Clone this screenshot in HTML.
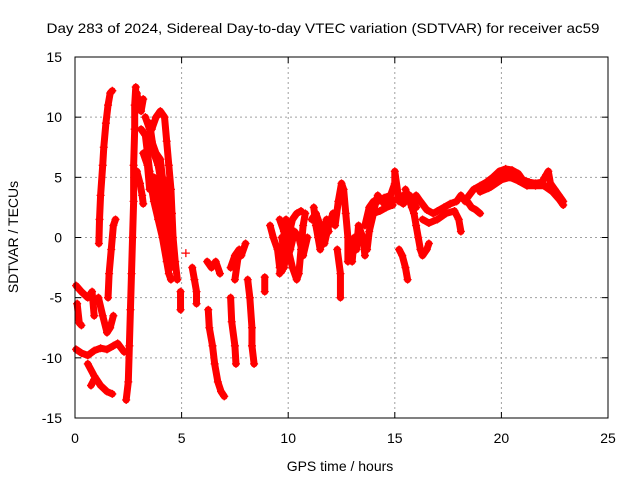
<!DOCTYPE html>
<html><head><meta charset="utf-8"><style>
body{margin:0;background:#fff}
svg{display:block;font-family:"Liberation Sans",Arial,sans-serif}
</style></head><body>
<svg id="chart" width="640" height="480" viewBox="0 0 640 480" xmlns="http://www.w3.org/2000/svg">
<rect width="640" height="480" fill="#fff"/>
<text x="323" y="33" font-size="14" text-anchor="middle" textLength="553" lengthAdjust="spacingAndGlyphs">Day 283 of 2024, Sidereal Day-to-day VTEC variation (SDTVAR) for receiver ac59</text>
<g id="grid"></g>
<g id="marks"></g>
<g id="axes"></g>
<text x="340" y="471" font-size="14" text-anchor="middle">GPS time / hours</text>
<text x="0" y="0" font-size="14" text-anchor="middle" transform="translate(18,237) rotate(-90)">SDTVAR / TECUs</text>
</svg>
<script>
const xTicks=[0,5,10,15,20,25];
const yTicks=[-15,-10,-5,0,5,10,15];
const traces=[
[[1.12,-0.5],[1.15,1.5],[1.2,3.5],[1.3,6],[1.35,7.5],[1.45,9.5],[1.55,11],[1.65,12],[1.75,12.2]],
[[1.55,-5],[1.6,-3],[1.7,-1],[1.8,1],[1.9,1.5]],
[[0.05,-4],[0.3,-4.5],[0.6,-5],[0.8,-4.5],[0.9,-6.5]],
[[0.1,-5.5],[0.2,-7.1],[0.3,-7.3]],
[[1.1,-5],[1.3,-6.5],[1.5,-7.9],[1.65,-7.5],[1.8,-6.5]],
[[0.05,-9.3],[0.3,-9.6],[0.6,-9.8],[0.9,-9.4],[1.2,-9.2],[1.5,-9.3],[1.8,-9],[2.0,-8.8],[2.3,-9.5]],
[[0.6,-10.5],[0.9,-11.5],[1.2,-12.3],[1.5,-12.8],[1.75,-13]],
[[0.75,-12.3],[0.9,-11.8]],
[[2.4,-13.5],[2.5,-12],[2.55,-9],[2.6,-6],[2.65,-3],[2.7,0],[2.75,3],[2.75,6],[2.8,9],[2.8,11],[2.85,12.5]],
[[2.9,12],[3.0,11],[3.1,10.5],[3.2,11.5]],
[[2.9,5.5],[3.05,4.5],[3.15,3.5],[3.2,2.8]],
[[3.1,9],[3.3,8.5],[3.4,7],[3.5,5.5],[3.6,4],[3.7,3],[3.9,1.5],[4.1,0],[4.3,-2],[4.4,-3],[4.5,-3.5]],
[[3.6,9],[3.8,10],[4.0,10.5],[4.2,10],[4.3,8],[4.4,6],[4.5,4],[4.55,2],[4.6,0],[4.7,-2],[4.8,-3.5]],
[[3.5,9.5],[3.7,7],[3.9,6],[4.0,5],[4.2,3.5],[4.3,2],[4.4,0]],
[[3.3,10],[3.5,9],[3.6,8],[3.8,7],[4.0,6.5],[4.1,5],[4.2,4.5],[4.3,3],[4.5,1.5],[4.6,-1]],
[[3.2,7],[3.4,6],[3.5,4],[3.7,5],[3.9,3.5],[4.1,2],[4.3,-0.5],[4.5,-2.5]],
[[4.95,-4.5],[4.95,-6]],
[[5.2,-1.3]],
[[5.5,-2.5],[5.6,-3.5],[5.7,-4.5],[5.7,-5.5]],
[[6.2,-2],[6.4,-2.5],[6.6,-2],[6.8,-3]],
[[6.25,-6],[6.3,-7.5],[6.45,-9],[6.55,-10.5],[6.7,-12],[6.85,-12.8],[7.0,-13.2]],
[[7.3,-2.5],[7.5,-1.5],[7.7,-1],[7.5,-3.5]],
[[7.3,-5],[7.35,-7],[7.5,-9],[7.55,-10.5]],
[[7.8,-1.5],[8.0,-0.5]],
[[8.1,-3.5],[8.2,-5],[8.3,-7.5],[8.3,-9],[8.4,-10.5]],
[[8.9,-3.3],[8.9,-4.5]],
[[9.15,1],[9.3,0],[9.5,-1],[9.6,-2.5],[9.7,-2.8]],
[[9.6,1.5],[9.8,0.5],[10.0,-1],[10.2,-2.5],[10.4,-3.5],[10.5,-3],[10.6,-1],[10.7,1],[10.8,2]],
[[9.6,-1],[9.8,-2.5],[10.0,0],[10.2,1.5],[10.4,2],[10.6,2.2]],
[[9.6,-3],[9.7,-1],[9.9,1.5]],
[[9.7,0],[9.9,-2],[10.1,-1],[10.3,0.5],[10.5,0],[10.7,-1.5],[10.9,0]],
[[11.2,2.5],[11.3,1],[11.4,0],[11.5,-1],[11.6,0],[11.8,1.5],[11.9,0.5]],
[[11.1,1.5],[11.3,2],[11.5,1],[11.7,-0.5],[11.9,1],[12.1,2]],
[[12.2,1],[12.35,3],[12.5,4.5],[12.6,4],[12.7,2],[12.8,0],[12.8,-2]],
[[12.3,-1],[12.45,-3],[12.45,-5]],
[[13.0,-2],[13.1,0],[13.2,-1],[13.3,1],[13.5,0],[13.6,-1.5]],
[[13.6,1],[13.8,2.5],[14.0,3],[14.2,3],[14.5,3.3],[14.8,3.5],[15.0,4.5],[15.0,5.5],[15.2,3],[15.4,3.5]],
[[13.7,-1],[13.8,0.5],[14.0,2],[14.3,2.2],[14.6,2.5],[14.9,2.7]],
[[13.9,1.5],[14.2,3.5],[14.5,2.8],[14.8,3],[15.1,3.2],[15.4,2.8],[15.7,3.5],[16.0,2.5]],
[[15.2,-1],[15.35,-1.5],[15.5,-2.5],[15.6,-3.5]],
[[15.5,4],[15.7,3],[15.9,2],[16.0,1],[16.1,0],[16.2,-1],[16.3,-1.5],[16.5,-1],[16.6,-0.5]],
[[15.8,2.5],[16.0,3.5],[16.2,3],[16.5,2.3],[16.8,2],[17.0,2.2],[17.3,2.5],[17.6,2.8],[17.9,3],[18.1,3.5],[18.3,3]],
[[16.3,1.5],[16.6,1.2],[17.0,1.5],[17.4,2],[17.8,2.2],[18.0,1.5],[18.1,0.5]],
[[18.4,3],[18.6,2.5],[18.8,2.3],[19.0,2]],
[[18.4,3.3],[18.7,4],[19.0,4.3],[19.3,4.6],[19.6,5],[19.9,5.5],[20.2,5.7],[20.5,5.6],[20.8,5.3],[21.0,4.8],[21.3,4.6],[21.6,4.5],[21.9,4.6],[22.1,5.2],[22.2,5.5],[22.3,4.5],[22.5,4],[22.7,3.5],[22.9,3]],
[[19.0,3.8],[19.4,4.1],[19.8,4.6],[20.1,5.2],[20.5,5.2],[20.9,4.8],[21.3,4.5],[21.8,4.4],[22.3,4.2],[22.7,3.4]],
[[19.5,4.2],[20.0,4.8],[20.4,5],[20.8,4.7],[21.2,4.3],[21.6,4.3],[22.0,4.3],[22.4,3.8],[22.7,3.2],[22.9,2.7]]
];
const NS="http://www.w3.org/2000/svg";
const L=75,R=608,T=57,B=418;
const xs=v=>L+(v-0)/(25-0)*(R-L);
const ys=v=>B-(v+15)/30*(B-T);
const grid=document.getElementById('grid'),axes=document.getElementById('axes'),marks=document.getElementById('marks');
function mk(tag,attrs,parent){const e=document.createElementNS(NS,tag);for(const k in attrs)e.setAttribute(k,attrs[k]);parent.appendChild(e);return e;}
xTicks.forEach(t=>{const x=xs(t);
 if(t>0&&t<25){const g=mk('line',{x1:x,x2:x,y1:T,y2:B,stroke:'#a0a0a0','stroke-dasharray':'2,3'},grid);}
 mk('line',{x1:x,x2:x,y1:B,y2:B-6,stroke:'#000'},axes);mk('line',{x1:x,x2:x,y1:T,y2:T+6,stroke:'#000'},axes);
 const tx=mk('text',{x:x,y:B+25,'font-size':14,'text-anchor':'middle'},axes);tx.textContent=t;
 
 
});
yTicks.forEach(t=>{const y=ys(t);
 if(t>-15&&t<15){const g=mk('line',{x1:L,x2:R,y1:y,y2:y,stroke:'#a0a0a0','stroke-dasharray':'2,3'},grid);}
 mk('line',{x1:L,x2:L+6,y1:y,y2:y,stroke:'#000'},axes);mk('line',{x1:R,x2:R-6,y1:y,y2:y,stroke:'#000'},axes);
 const tx=mk('text',{x:L-13,y:y+5,'font-size':14,'text-anchor':'end'},axes);tx.textContent=t;
 
 
});
const border=mk('rect',{x:L,y:T,width:R-L,height:B-T,fill:'none',stroke:'#000'},axes);


traces.forEach(tr=>{
 const pl=mk('polyline',{points:tr.map(p=>xs(p[0])+','+ys(p[1])).join(' '),fill:'none',stroke:'#f00','stroke-width':7,'stroke-linejoin':'round','stroke-linecap':'round'},marks);
 
 
 tr.forEach(p=>{const x=xs(p[0]),y=ys(p[1]);
  const m=mk('path',{d:`M${x-4},${y}H${x+4}M${x},${y-4}V${y+4}`,stroke:'#f00','stroke-width':1.3},marks);
  
  
 });
});
</script>
</body></html>
